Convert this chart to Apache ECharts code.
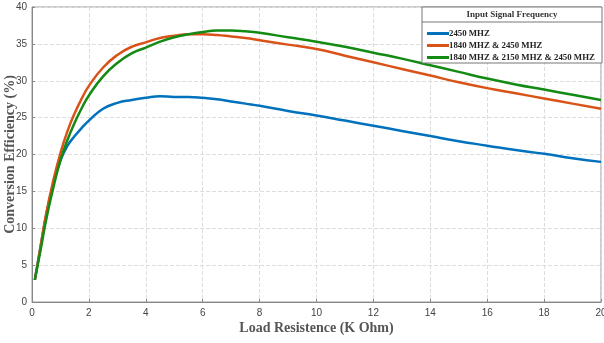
<!DOCTYPE html>
<html><head><meta charset="utf-8">
<script src="https://cdn.jsdelivr.net/npm/echarts@6/dist/echarts.min.js"></script>
<style>html,body{margin:0;padding:0;background:#fff}#c{width:604px;height:343px}</style>
</head><body><div id="c"></div>
<script>
const xValues = [0.1,0.3,0.5,0.75,1,1.25,1.5,1.75,2,2.5,3,3.5,4,4.5,5,5.5,6,6.5,7,7.5,8,9,10,11,12,13,14,15,16,17,18,19,20];
const blue2450 = [3,7.5,11.8,16,19.2,21.2,22.5,23.6,24.6,26.2,27.0,27.4,27.7,27.9,27.8,27.8,27.7,27.5,27.2,26.9,26.6,25.9,25.3,24.6,23.9,23.2,22.5,21.8,21.2,20.6,20.1,19.5,19.0];
const orange1840_2450 = [3,7.5,12,16.5,20.2,23.2,25.6,27.6,29.3,31.8,33.5,34.6,35.2,35.8,36.1,36.3,36.3,36.2,36.0,35.8,35.5,34.9,34.3,33.4,32.5,31.6,30.7,29.8,29.0,28.3,27.6,26.9,26.2];
const green1840_2150_2450 = [3,7,11.2,15.5,19.2,22.0,24.3,26.3,28.0,30.6,32.4,33.7,34.5,35.3,35.9,36.3,36.6,36.8,36.8,36.7,36.5,35.9,35.3,34.6,33.8,33.0,32.1,31.2,30.3,29.5,28.8,28.1,27.4];
const seriesNames = ['2450 MHZ','1840 MHZ & 2450 MHZ','1840 MHZ & 2150 MHZ & 2450 MHZ'];
const seriesColors = ['#0072BD','#D95319','#138A13'];
const seriesValues = [blue2450, orange1840_2450, green1840_2150_2450];

const chart = echarts.init(document.getElementById('c'), null, {renderer:'canvas'});
const serif = '"Liberation Serif", "DejaVu Serif", serif';
chart.setOption({
  animation:false,
  backgroundColor:'#fff',
  grid:{left:32,right:3,top:7,bottom:41,show:true,borderColor:'#999',borderWidth:1,outerBoundsMode:'none',containLabel:false},
  graphic:[
    {type:'rect',shape:{x:422,y:7,width:180,height:56},style:{fill:'#fff',stroke:'#777',lineWidth:1},z:5},
    {type:'line',shape:{x1:422,y1:22,x2:602,y2:22},style:{stroke:'#777',lineWidth:1},z:6},
    {type:'text',x:512,y:15,style:{text:'Input Signal Frequency',align:'center',verticalAlign:'middle',font:'bold 9px "Liberation Serif", serif',fill:'#333'},z:7}
  ],
  legend:{orient:'vertical',left:422,top:24,itemGap:3,itemWidth:22,itemHeight:3,icon:'rect',
    textStyle:{fontFamily:serif,fontWeight:'bold',fontSize:8.8,color:'#222',padding:[0,0,0,-5]},z:10,
    data:seriesNames},
  xAxis:{type:'value',min:0,max:20,interval:2,
    name:'Load Resistence (K Ohm)',nameLocation:'middle',nameGap:19,nameMoveOverlap:false,
    nameTextStyle:{fontFamily:serif,fontWeight:'bold',fontSize:14,color:'#555'},
    axisLine:{lineStyle:{color:'#888'}},axisTick:{inside:true,length:3,lineStyle:{color:'#888'}},
    axisLabel:{color:'#444',fontSize:10,margin:6},
    splitLine:{show:true,lineStyle:{color:'#ddd',type:'dashed'}}},
  yAxis:{type:'value',min:0,max:40,interval:5,
    name:'Conversion Efficiency (%)',nameLocation:'middle',nameGap:15,nameMoveOverlap:false,
    nameTextStyle:{fontFamily:serif,fontWeight:'bold',fontSize:14,color:'#555'},
    axisLine:{show:true,lineStyle:{color:'#888'}},axisTick:{show:true,inside:true,length:3,lineStyle:{color:'#888'}},
    axisLabel:{color:'#444',fontSize:10,margin:5},
    splitLine:{show:true,lineStyle:{color:'#ddd',type:'dashed'}}},
  series: seriesNames.map((n,i)=>({
    name:n,type:'line',smooth:true,showSymbol:false,
    color:seriesColors[i],
    lineStyle:{width:2.5,color:seriesColors[i]},
    data:xValues.map((x,j)=>[x,seriesValues[i][j]])
  }))
});
</script></body></html>
